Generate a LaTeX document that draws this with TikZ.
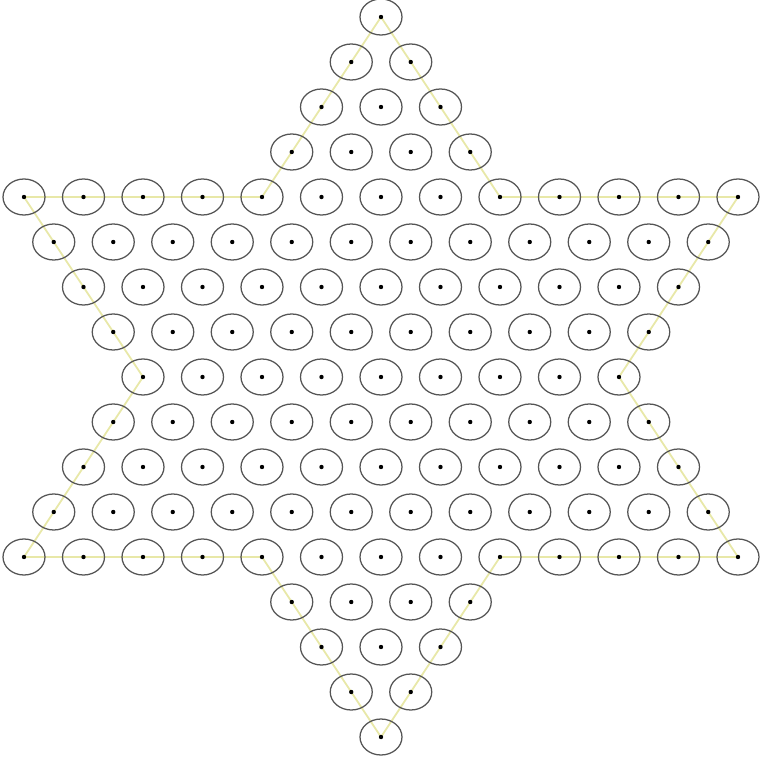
\documentclass[tikz,border=0pt]{standalone}
\usetikzlibrary{shapes.geometric, backgrounds}
\definecolor{starline}{RGB}{232,232,168}
\definecolor{holeline}{RGB}{85,85,85}

\begin{document}
\begin{tikzpicture}[
  x=0.74375cm, y=-1.125cm,
  hole/.style={ellipse, draw=holeline, line width=0.9pt, minimum width=1.05cm,
               minimum height=0.9cm, inner sep=0pt},
  outline/.style={draw=starline, line width=1.3pt, line join=round}
]
  \useasboundingbox (-9.525cm,0.425cm) rectangle (9.475cm,-18.575cm);

  % holes, row by row (row / half width)
  \foreach \r/\w in {0/0,1/1,2/2,3/3,4/12,5/11,6/10,7/9,8/8,9/9,10/10,11/11,12/12,13/3,14/2,15/1,16/0} {
    \foreach \c in {0,...,24} {
      \pgfmathtruncatemacro{\k}{\c-12}
      \pgfmathtruncatemacro{\ok}{(abs(\k)<=\w) && iseven(\k+\r)}
      \ifnum\ok=1
        \node[hole] (h-\r-\c) at (\k,\r) {};
        \fill (h-\r-\c.center) circle[radius=0.055cm];
      \fi
    }
  }

  % star outline
  \begin{scope}[on background layer]
    \draw[outline] (h-0-12.center) -- (h-4-8.center) -- (h-4-0.center)
      -- (h-8-4.center) -- (h-12-0.center) -- (h-12-8.center)
      -- (h-16-12.center) -- (h-12-16.center) -- (h-12-24.center)
      -- (h-8-20.center) -- (h-4-24.center) -- (h-4-16.center) -- cycle;
  \end{scope}
\end{tikzpicture}
\end{document}
